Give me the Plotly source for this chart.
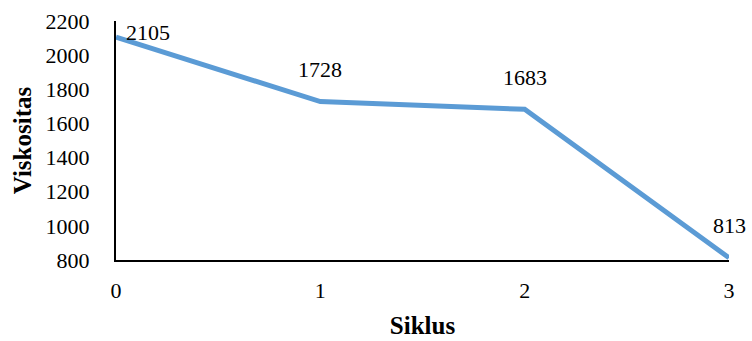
import plotly.graph_objects as go

siklus = [0, 1, 2, 3]
viskositas = [2105, 1728, 1683, 813]
y_ticks = [800, 1000, 1200, 1400, 1600, 1800, 2000, 2200]

serif = "Liberation Serif"
tick_font = dict(family=serif, size=22, color="#000000")
title_font = dict(family=serif, size=25, color="#000000")

fig = go.Figure()
fig.add_trace(go.Scatter(
    x=siklus, y=viskositas,
    mode="lines",
    line=dict(color="#5B9BD5", width=5),
    showlegend=False,
    hoverinfo="x+y",
))

# value labels: first one to the right of its point, the rest above
for i, (s, v) in enumerate(zip(siklus, viskositas)):
    if i == 0:
        fig.add_annotation(x=s, y=v, text=str(v), showarrow=False,
                           xanchor="left", yanchor="middle",
                           xshift=8, yshift=5, font=tick_font)
    else:
        fig.add_annotation(x=s, y=v, text=str(v), showarrow=False,
                           xanchor="center", yanchor="middle",
                           yshift=32, font=tick_font)

fig.update_layout(
    width=752, height=341,
    margin=dict(l=116, r=23, t=21, b=81),
    paper_bgcolor="white", plot_bgcolor="white",
    font=tick_font,
    xaxis=dict(
        range=[0, 3], tickvals=siklus, ticktext=[str(s) for s in siklus],
        showgrid=False, zeroline=False, automargin=False,
        showline=True, linecolor="#000000", linewidth=2,
        ticks="", ticklabelstandoff=10, tickfont=tick_font,
        title=dict(text="<b>Siklus</b>", font=title_font, standoff=14),
    ),
    yaxis=dict(
        range=[800, 2200], tickvals=y_ticks,
        showgrid=False, zeroline=False, automargin=False,
        showline=True, linecolor="#000000", linewidth=2,
        ticks="", ticklabelstandoff=20, tickfont=tick_font,
        title=dict(text="<b>Viskositas</b>", font=title_font, standoff=7),
    ),
)

fig.write_html("out.html")
